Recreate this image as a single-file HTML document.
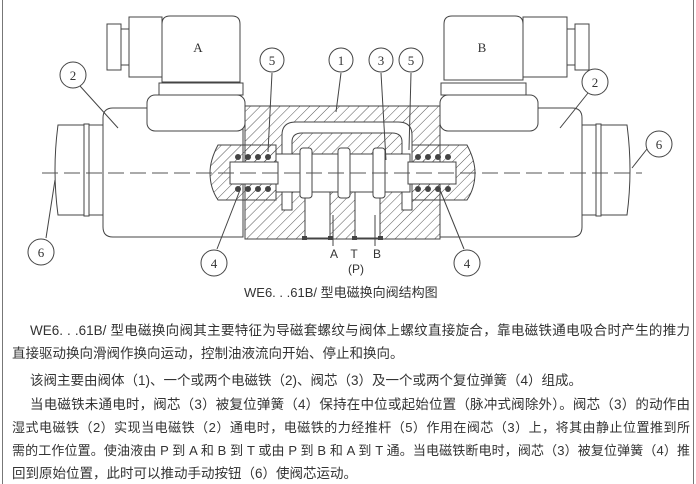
<!DOCTYPE html>
<html><head><meta charset="utf-8"><style>
html,body{margin:0;padding:0;background:#fff;}
#w{position:relative;width:696px;height:484px;overflow:hidden;background:#fff;}
.bl{position:absolute;top:0;width:1px;height:484px;background:#777;}
.t{position:absolute;font-family:"Liberation Sans","Noto Sans CJK SC",sans-serif;font-size:13.5px;color:#333;white-space:nowrap;line-height:16px;}
.j{text-align:justify;text-align-last:justify;white-space:normal;}
svg{position:absolute;left:0;top:0;}
</style></head><body><div id="w">
<div class="bl" style="left:2px"></div><div class="bl" style="left:693px"></div>
<svg width="696" height="300" viewBox="0 0 696 300" font-family="Liberation Serif,serif">
<defs><pattern id="h" width="7" height="7" patternUnits="userSpaceOnUse" patternTransform="rotate(45)"><line x1="0" y1="0" x2="0" y2="7" stroke="#444" stroke-width="0.9"/></pattern></defs>
<g fill="#fff" stroke="#444" stroke-width="1">
<rect x="107" y="24" width="14" height="46"/><rect x="121" y="29" width="8" height="36"/><rect x="129" y="17" width="33" height="60"/>
<path d="M162 82 V24 Q162 16 170 16 H232 Q240 16 240 24 V82 Z"/>
<rect x="159" y="83" width="84" height="12"/>
<path d="M113 108 H243 V237 H113 Q103 237 103 227 V118 Q103 108 113 108 Z"/>
<rect x="147" y="95" width="98" height="36" rx="8"/>
<rect x="88" y="125" width="15" height="90"/><rect x="84" y="124" width="5" height="92"/>
<path d="M58 125 H84 V215 H58 Q52 170 58 125 Z"/>
<rect x="575" y="24" width="14" height="46"/><rect x="567" y="29" width="8" height="36"/><rect x="523" y="17" width="44" height="60"/>
<path d="M444 80 V24 Q444 16 452 16 H515 Q523 16 523 24 V80 Z"/>
<rect x="441" y="83" width="85" height="12"/>
<path d="M440 108 H572 Q582 108 582 118 V227 Q582 237 572 237 H440 Z"/>
<rect x="440" y="95" width="98" height="36" rx="8"/>
<rect x="582" y="125" width="15" height="90"/><rect x="596" y="124" width="5" height="92"/>
<path d="M601 125 H627 Q633 170 627 215 H601 Z"/>
<rect x="245" y="106" width="195" height="133" fill="url(#h)"/>
<path d="M218 145 Q210 160 210 173 Q210 188 218 200 H276 V145 Z" fill="url(#h)"/>
<path d="M467 145 Q475 160 475 173 Q475 188 467 200 H410 V145 Z" fill="url(#h)"/>
<path d="M282 210 V135 Q282 122 296 122 H398 Q412 122 412 135 V210 H402 V142 Q402 133 392 133 H302 Q292 133 292 142 V210 Z"/>
<rect x="276" y="154" width="134" height="38"/>
<rect x="305" y="192" width="25" height="46"/><rect x="355" y="192" width="25" height="46"/>
<rect x="300" y="148" width="12" height="50" rx="3"/><rect x="338" y="148" width="12" height="50" rx="3"/><rect x="373" y="148" width="12" height="50" rx="3"/>
<rect x="230" y="162" width="48" height="22"/><rect x="408" y="162" width="48" height="22"/>
</g>
<g fill="#444"><circle cx="238" cy="157" r="3"/><circle cx="248" cy="157" r="3"/><circle cx="258" cy="157" r="3"/><circle cx="268" cy="157" r="3"/>
<circle cx="238" cy="189" r="3"/><circle cx="248" cy="189" r="3"/><circle cx="258" cy="189" r="3"/><circle cx="268" cy="189" r="3"/>
<circle cx="418" cy="157" r="3"/><circle cx="428" cy="157" r="3"/><circle cx="438" cy="157" r="3"/><circle cx="448" cy="157" r="3"/>
<circle cx="418" cy="189" r="3"/><circle cx="428" cy="189" r="3"/><circle cx="438" cy="189" r="3"/><circle cx="448" cy="189" r="3"/>
<rect x="302" y="236" width="5" height="4"/><rect x="328" y="236" width="5" height="4"/><rect x="352" y="236" width="5" height="4"/><rect x="378" y="236" width="5" height="4"/></g>
<line x1="42" y1="173" x2="642" y2="173" stroke="#555" stroke-dasharray="16,6" stroke-width="1"/>
<g stroke="#444" fill="none" stroke-width="1">
<line x1="80" y1="86" x2="118" y2="128"/><line x1="272" y1="73" x2="268" y2="152"/><line x1="341" y1="73" x2="336" y2="112"/>
<line x1="381" y1="73" x2="386" y2="160"/><line x1="411" y1="73" x2="409" y2="150"/><line x1="588" y1="93" x2="560" y2="128"/>
<line x1="647" y1="149" x2="632" y2="168"/><line x1="46" y1="238" x2="55" y2="180"/><line x1="217" y1="249" x2="240" y2="190"/><line x1="464" y1="249" x2="440" y2="190"/>
<line x1="333" y1="215" x2="333" y2="246"/><line x1="375" y1="215" x2="375" y2="246"/>
</g>
<g fill="#fff" stroke="#444"><circle cx="73" cy="75" r="13"/><circle cx="272" cy="60" r="12"/><circle cx="341" cy="60" r="12"/><circle cx="381" cy="60" r="12"/><circle cx="411" cy="60" r="12"/><circle cx="595" cy="82" r="13"/><circle cx="659" cy="144" r="13"/><circle cx="41" cy="252" r="13"/><circle cx="214" cy="263" r="13"/><circle cx="467" cy="263" r="13"/></g>
<g font-size="13" fill="#333" text-anchor="middle"><text x="73" y="80">2</text><text x="272" y="65">5</text><text x="341" y="65">1</text><text x="381" y="65">3</text><text x="411" y="65">5</text><text x="595" y="87">2</text><text x="659" y="149">6</text><text x="41" y="257">6</text><text x="214" y="268">4</text><text x="467" y="268">4</text>
<text x="198" y="52">A</text><text x="482" y="52">B</text></g>
<g font-family="Liberation Sans,sans-serif" font-size="12" fill="#333" text-anchor="middle"><text x="334" y="258">A</text><text x="354" y="258">T</text><text x="377" y="258">B</text><text x="356" y="273">(P)</text></g>
</svg>
<div class="t" style="left:244px;top:285px;font-size:13px">WE6. . .61B/ 型电磁换向阀结构图</div>
<div class="t j" style="left:30px;top:323px;width:660px">WE6. . .61B/ 型电磁换向阀其主要特征为导磁套螺纹与阀体上螺纹直接旋合，靠电磁铁通电吸合时产生的推力</div>
<div class="t" style="left:12px;top:346px">直接驱动换向滑阀作换向运动，控制油液流向开始、停止和换向。</div>
<div class="t" style="left:30px;top:373px">该阀主要由阀体（1)、一个或两个电磁铁（2)、阀芯（3）及一个或两个复位弹簧（4）组成。</div>
<div class="t j" style="left:30px;top:397px;width:660px">当电磁铁未通电时，阀芯（3）被复位弹簧（4）保持在中位或起始位置（脉冲式阀除外）。阀芯（3）的动作由</div>
<div class="t j" style="left:12px;top:420px;width:678px;font-size:13px">湿式电磁铁（2）实现当电磁铁（2）通电时，电磁铁的力经推杆（5）作用在阀芯（3）上，将其由静止位置推到所</div>
<div class="t j" style="left:12px;top:443px;width:678px;font-size:13px">需的工作位置。使油液由 P 到 A 和 B 到 T 或由 P 到 B 和 A 到 T 通。当电磁铁断电时，阀芯（3）被复位弹簧（4）推</div>
<div class="t" style="left:12px;top:466px">回到原始位置，此时可以推动手动按钮（6）使阀芯运动。</div>
</div></body></html>
